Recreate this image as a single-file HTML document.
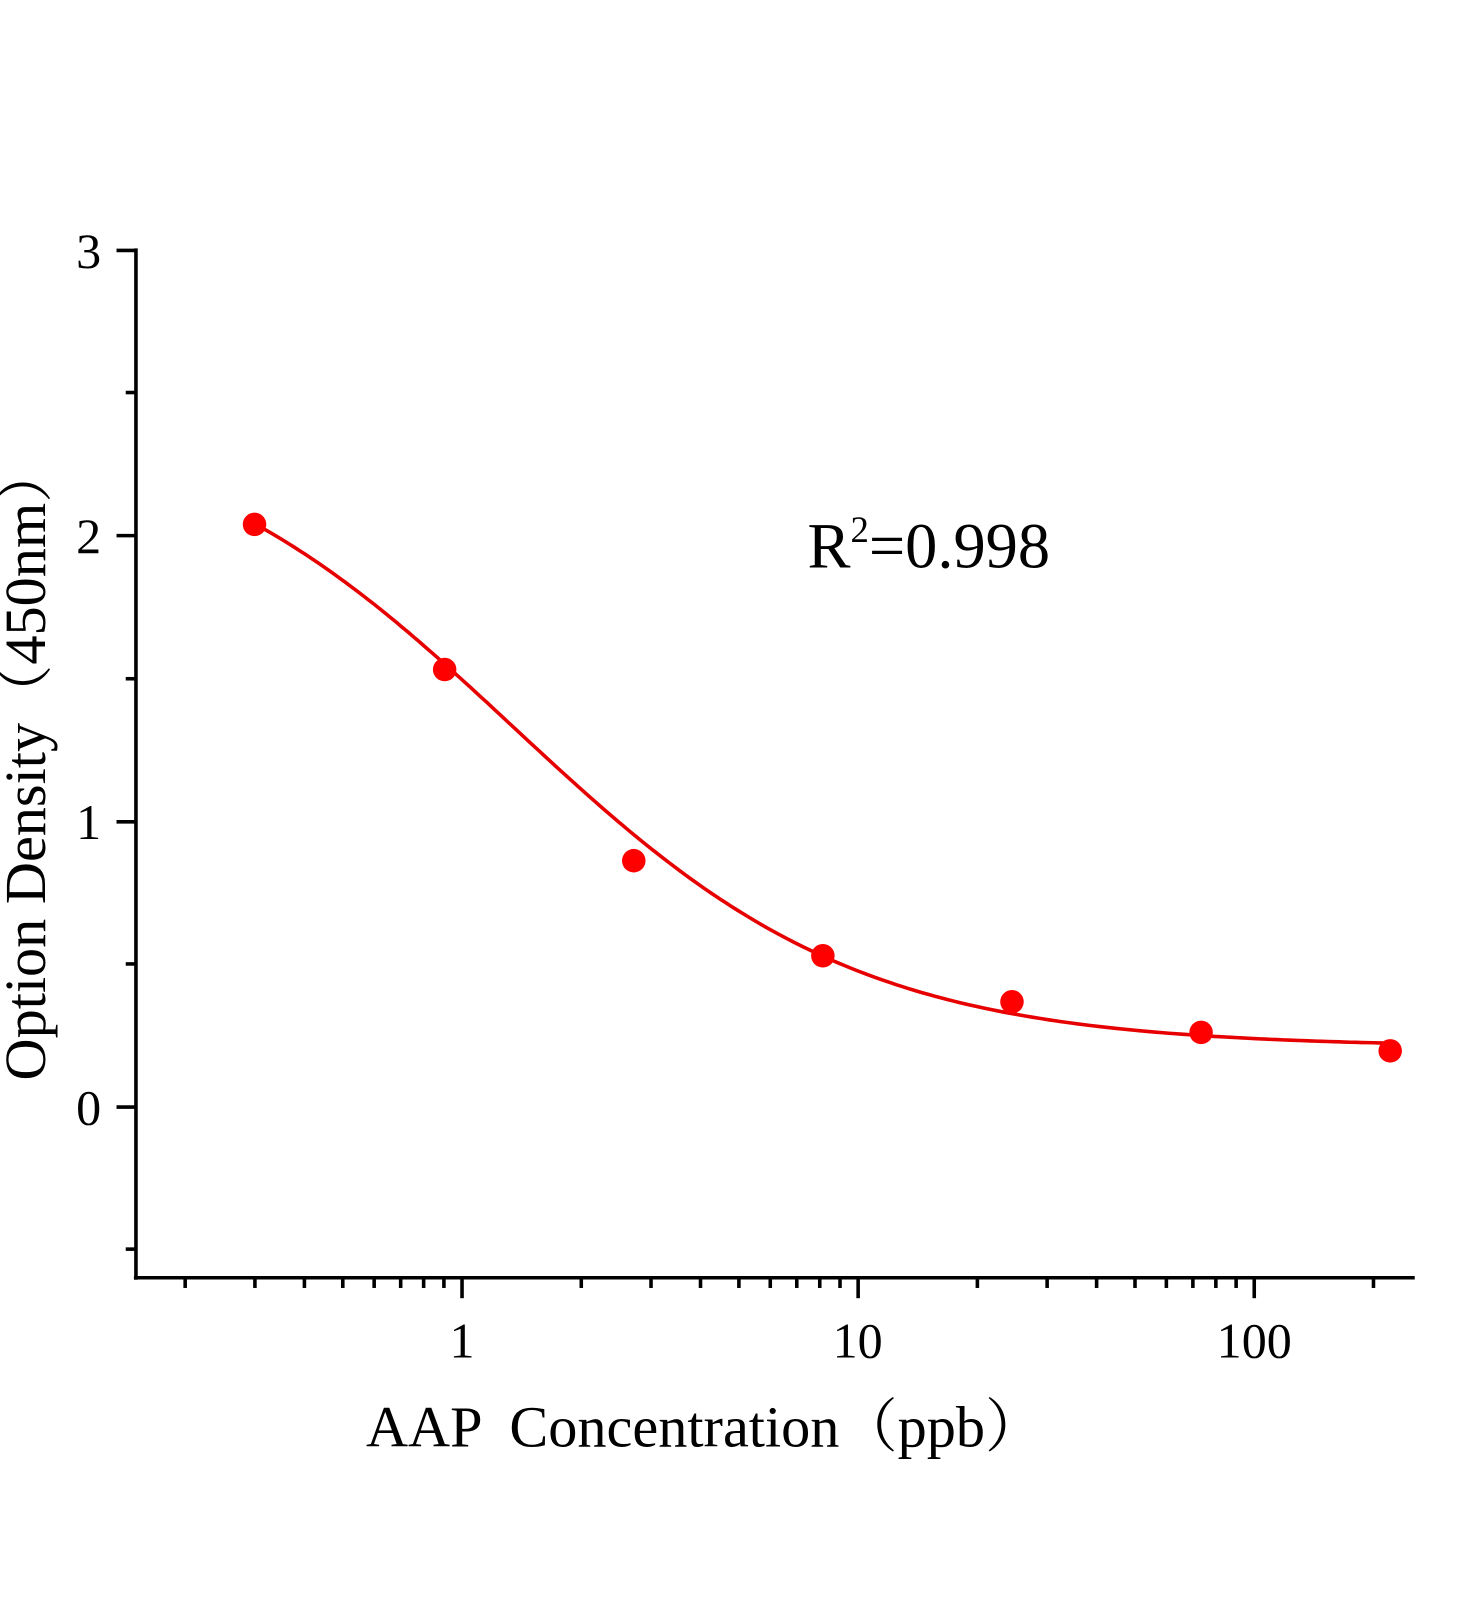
<!DOCTYPE html>
<html><head><meta charset="utf-8"><style>
html,body{margin:0;padding:0;background:#fff}
svg text{font-family:"Liberation Serif","Noto Serif CJK SC",serif;fill:#000}
</style></head><body>
<svg id="s" width="1472" height="1600" viewBox="0 0 1472 1600" xmlns="http://www.w3.org/2000/svg">
<g transform="scale(1.0222)">
<g stroke="#000" stroke-width="3.5" fill="none">
<line x1="133" y1="243" x2="133" y2="1252"/>
<line x1="131" y1="1250" x2="1384" y2="1250"/>
<line x1="114" y1="245" x2="133" y2="245"/>
<line x1="114" y1="524" x2="133" y2="524"/>
<line x1="114" y1="804" x2="133" y2="804"/>
<line x1="114" y1="1083" x2="133" y2="1083"/>
<line x1="123" y1="384" x2="133" y2="384"/>
<line x1="123" y1="664" x2="133" y2="664"/>
<line x1="123" y1="943" x2="133" y2="943"/>
<line x1="123" y1="1222" x2="133" y2="1222"/>
</g>
<g id="xt" stroke="#000" stroke-width="3.5"></g>
<g font-size="49">
<text x="99" y="262" text-anchor="end">3</text>
<text x="99" y="541" text-anchor="end">2</text>
<text x="99" y="821" text-anchor="end">1</text>
<text x="99" y="1100" text-anchor="end">0</text>
<text x="452" y="1328" text-anchor="middle">1</text>
<text x="839" y="1328" text-anchor="middle">10</text>
<text x="1227" y="1328" text-anchor="middle">100</text>
</g>
<text x="358" y="1415" font-size="57" xml:space="preserve">AAP  Concentration（ppb）</text>
<text transform="translate(44,746) rotate(-90)" font-size="57" text-anchor="middle">Option Density（450nm）</text>
<text x="790" y="555" font-size="63">R<tspan dy="-25" font-size="36">2</tspan><tspan dy="25">=0.998</tspan></text>
<path id="curve" fill="none" stroke="#e60000" stroke-width="3.5"/>
<g fill="#ff0000">
<circle cx="249" cy="513" r="11.5"/><circle cx="435" cy="655" r="11.5"/><circle cx="620" cy="842" r="11.5"/>
<circle cx="805" cy="935" r="11.5"/><circle cx="990" cy="980" r="11.5"/><circle cx="1175" cy="1010" r="11.5"/>
<circle cx="1360" cy="1028" r="11.5"/>
</g>
</g>
</svg>
<script>
var X=function(v){return 452+Math.log10(v)*387.5};
var Y=function(v){return 1083-v*279.3};
var g=document.getElementById('xt'),h='';
[0.2,0.3,0.4,0.5,0.6,0.7,0.8,0.9,1,2,3,4,5,6,7,8,9,10,20,30,40,50,60,70,80,90,100,200].forEach(function(v){
 var m=(v==1||v==10||v==100);var x=X(v);
 h+='<line x1="'+x+'" y1="1250" x2="'+x+'" y2="'+(m?1270:1260)+'"/>';});
g.innerHTML=h;
var d='';
for(var i=0;i<=200;i++){var px=249+(1360-249)*i/200;var v=Math.pow(10,(px-452)/387.5);
 var od=0.21+2.24/(1+Math.pow(v/1.35,1.0));
 d+=(i?'L':'M')+px.toFixed(1)+' '+Y(od).toFixed(1);}
document.getElementById('curve').setAttribute('d',d);
</script>
</body></html>
